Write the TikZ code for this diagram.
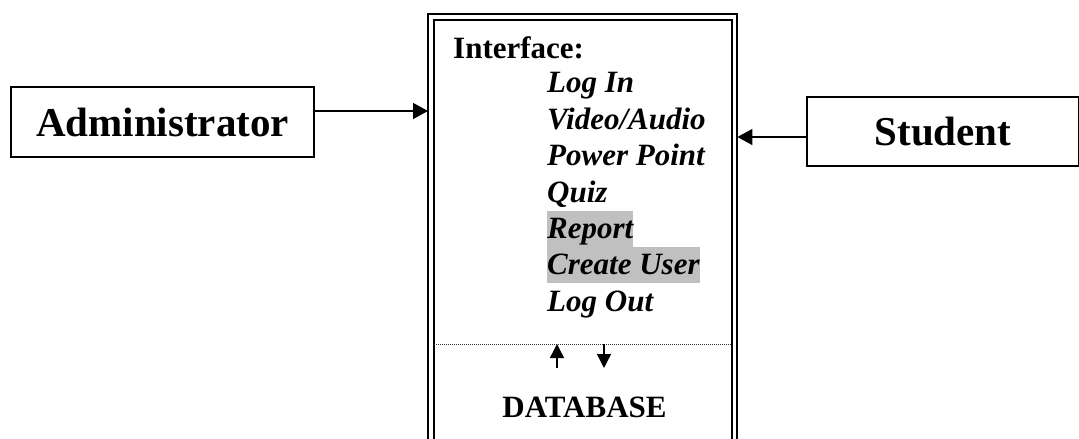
\documentclass[tikz,border=0pt]{standalone}
\usepackage{fontspec}
\setmainfont{Liberation Serif}
\usetikzlibrary{arrows.meta,calc}
\definecolor{hl}{RGB}{192,192,192}
\tikzset{
  actor/.style={draw,line width=1.4pt,inner sep=0pt,font=\fontsize{41}{41}\selectfont\bfseries},
  arr/.style={line width=1.3pt,-{Triangle[length=15pt,width=16pt]}},
  smallarr/.style={line width=1.4pt,-{Triangle[length=14pt,width=14pt]}},
  item/.style={anchor=north west,inner sep=0pt,text height=27.7pt,text depth=8.3pt,font=\fontsize{31}{36}\selectfont\bfseries\itshape},
  hlitem/.style={item,fill=hl},
  sysline/.style={line join=miter,line width=2.2pt},
  sysinner/.style={line join=miter,line width=1.6pt},
}
\begin{document}
\begin{tikzpicture}[x=1pt,y=-1pt]
\useasboundingbox (0,0) rectangle (1079,439);
% main system box (open at bottom)
\node[minimum width=309pt,minimum height=460pt,inner sep=0pt,anchor=north west] (sys) at (428,14) {};
\draw[sysline] (428,460) -- (428,14) -- (737,14) -- (737,460);
\draw[sysinner] (434,460) -- (434,20) -- (732,20) -- (732,460);
% actors
\node[actor,minimum width=303pt,minimum height=70pt] (admin) at (162.5,122) {Administrator};
\node[actor,minimum width=272pt,minimum height=69pt] (student) at (943,131.5) {Student};
\coordinate (a1) at ($(admin.east)+(0,-11)$);
\coordinate (s1) at ($(student.west)+(0,5.5)$);
\draw[arr] (a1) -- (a1 -| sys.west);
\draw[arr] (s1) -- (s1 -| sys.east);
% interface text
\node[anchor=base west,inner sep=0pt,font=\fontsize{31}{36}\selectfont\bfseries] (iface) at (453,58) {Interface:};
\node[item] (login) at (547,65) {Log In};
\node[item] (video) at (login.south west) {Video/Audio};
\node[item] (ppt) at (video.south west) {Power Point};
\node[item] (quiz) at (ppt.south west) {Quiz};
\node[hlitem] (report) at (quiz.south west) {Report};
\node[hlitem] (create) at (report.south west) {Create User};
\node[item] (logout) at (create.south west) {Log Out};
% dotted separator
\coordinate (dl) at (434,344);
\coordinate (dr) at (732,344);
\draw[line width=1pt,black!80,dash pattern=on 1pt off 1pt] (dl) -- (dr);
\coordinate (u0) at (557,368);
\coordinate (u1) at (557,344);
\coordinate (d0) at (604,344);
\coordinate (d1) at (604,368);
\draw[smallarr] (u0) -- (u1);
\draw[smallarr] (d0) -- (d1);
\node[anchor=base,inner sep=0pt,font=\fontsize{31}{36}\selectfont\bfseries] (db) at (584.5,417) {DATABASE};
\end{tikzpicture}
\end{document}
